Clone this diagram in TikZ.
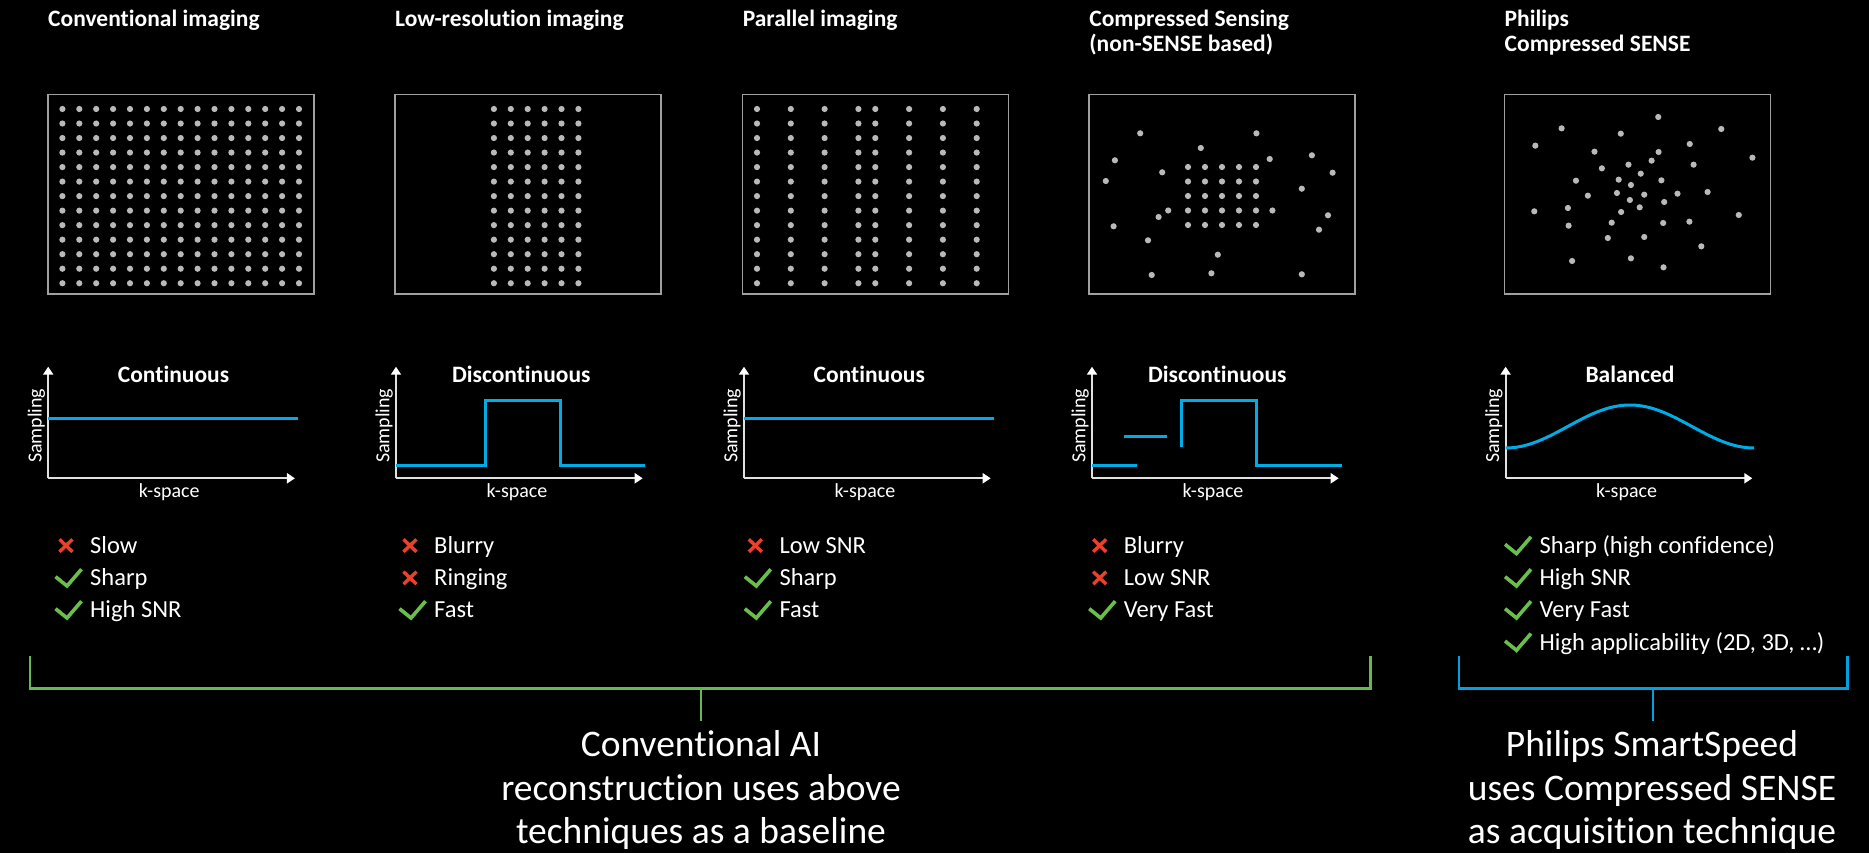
\documentclass[tikz,border=0pt]{standalone}
\usepackage{fontspec}
\setmainfont{Carlito}[Ligatures=NoCommon]
\usetikzlibrary{arrows.meta}
\definecolor{dotgray}{RGB}{185,185,185}
\definecolor{boxgray}{RGB}{160,160,160}
\definecolor{axisgray}{RGB}{225,225,225}
\definecolor{cyanline}{RGB}{0,172,230}
\definecolor{okgreen}{RGB}{106,190,75}
\definecolor{badred}{RGB}{232,65,44}
\definecolor{brgreen}{RGB}{100,185,80}
\definecolor{brblue}{RGB}{0,160,225}
\newcommand\goodrow[4]{\draw[okmark] ({#2-34.5},{#3-9}) -- ({#2-23},{#3+0.3}) -- ({#2-8.5},{#3-16.5}); \node[itemtext] (#1) at (#2,#3) {#4};}
\newcommand\badrow[4]{\draw[badmark] ({#2-30.5},{#3-14}) -- ({#2-17.5},{#3-1.5}) ({#2-30.5},{#3-1.5}) -- ({#2-17.5},{#3-14}); \node[itemtext] (#1) at (#2,#3) {#4};}
\newcommand\axes[1]{\draw[axis] (#1,478.3) -- (#1,366.7); \draw[axis] (#1,478.3) -- ({#1+246.7},478.3);}
\begin{document}
\begin{tikzpicture}[x=1pt,y=-1pt,
  ttl/.style={text=white, font=\fontsize{23.5}{28}\selectfont\bfseries, anchor=base west, inner sep=0pt},
  ptitle/.style={text=white, font=\fontsize{23.5}{28}\selectfont\bfseries, anchor=base, inner sep=0pt},
  axlabel/.style={text=white, font=\fontsize{20}{22}\selectfont, anchor=base, inner sep=0pt},
  itemtext/.style={text=white, font=\fontsize{24.5}{28}\selectfont, anchor=base west, inner sep=0pt},
  bottomtext/.style={text=white, font=\fontsize{37.5}{40}\selectfont, anchor=base, inner sep=0pt},
  kbox/.style={draw=boxgray, line width=1.5pt},
  axis/.style={draw=axisgray, line width=2pt, -{Triangle[length=8pt,width=10pt,color=white]}},
  sig/.style={draw=cyanline, line width=3pt},
  okmark/.style={draw=okgreen, line width=3.6pt},
  badmark/.style={draw=badred, line width=3.4pt},
  grbr/.style={draw=brgreen, line width=2.5pt},
  blbr/.style={draw=brblue, line width=2.5pt},
  grstem/.style={draw=brgreen, line width=1.5pt},
  blstem/.style={draw=brblue, line width=1.5pt},
  dotf/.style={fill=dotgray}
]
\useasboundingbox (0,0) rectangle (1869,853);
\fill[black] (0,0) rectangle (1869,853);

% ---------- titles ----------
\node[ttl] (t1) at (48,27) {Conventional imaging};
\node[ttl] (t2) at (395,27) {Low-resolution imaging};
\node[ttl] (t3) at (742.6,27) {Parallel imaging};
\node[ttl] (t4a) at (1089.2,27) {Compressed Sensing};
\node[ttl] (t4b) at (1089.2,51.5) {(non-SENSE based)};
\node[ttl] (t5a) at (1504.5,27) {Philips};
\node[ttl] (t5b) at (1504.5,51.5) {Compressed SENSE};

% ---------- k-space boxes ----------
\draw[kbox] (48,94.3) rectangle (314,294);
\draw[kbox] (395,94.3) rectangle (661,294);
\draw[kbox] (742.6,94.3) rectangle (1008.6,294);
\draw[kbox] (1089.2,94.3) rectangle (1355.2,294);
\draw[kbox] (1504.5,94.3) rectangle (1770.5,294);

% panel 1: full grid
\foreach \i in {0,...,14} \foreach \j in {0,...,12}
  \fill[dotf] ({62.4+16.9*\i},{109+14.52*\j}) circle[radius=3.1pt];
% panel 2: centre columns
\foreach \i in {5,...,10} \foreach \j in {0,...,12}
  \fill[dotf] ({409.4+16.9*\i},{109+14.52*\j}) circle[radius=3.1pt];
% panel 3: undersampled columns
\foreach \i in {0,2,4,6,7,9,11,13} \foreach \j in {0,...,12}
  \fill[dotf] ({757+16.9*\i},{109+14.52*\j}) circle[radius=3.1pt];
% panel 4: centre block + random
\foreach \i in {0,...,4} \foreach \j in {0,...,4}
  \fill[dotf] ({1188+17*\i},{167+14.5*\j}) circle[radius=3.1pt];
\foreach \a/\b in {1168.2/210.5,1272.4/210.5,1140.2/133.3,1256.4/133.3,1200.8/148,1114.9/160.3,1269.7/159,1311.9/155.3,1162.2/172.3,1332.6/172.7,1105.8/181,1301.8/188.7,1158.6/217,1113.6/226.3,1328/215.3,1319/229.7,1148/240.3,1217.8/254.7,1151.7/275,1211.4/273.3,1301.8/274.3}
  \fill[dotf] (\a,\b) circle[radius=3.1pt];
% panel 5: variable density random
\foreach \a/\b in {966/351,690/385,1146/387,859/401,615/437,1056/432,784/455,967/456,1235/473,947/482,881/494,1067/494,805/505,916/521,731/542,853/539,975/541,888/555,848/579,926/584,1021/581,1107/576,765/587,885/600,983/606,612/634,708/624,913/622,860/636,1196/645,833/668,980/669,1055/665,710/677,822/714,926/711,1089/739,720/783,888/775,981/802}
  \fill[dotf] ({1320+\a/2.856},{\b/3}) circle[radius=3.1pt];

% ---------- sampling plots ----------
\axes{48.2}
\axes{396}
\axes{744}
\axes{1092}
\axes{1505.6}

\draw[sig] (48.2,418.7) -- (298,418.7);
\draw[sig] (396,465) -- (485.7,465) -- (485.7,400) -- (560,400) -- (560,465) -- (645,465);
\draw[sig] (744,418.7) -- (993.5,418.7);
\draw[sig] (1092,465) -- (1137,465);
\draw[sig] (1123.7,436.7) -- (1167.3,436.7);
\draw[sig] (1181.5,447.3) -- (1181.5,400) -- (1256,400) -- (1256,465) -- (1341.7,465);
\draw[sig] plot[domain=-124.25:124.25, samples=80] ({1629.85+\x},{448-21.5*(1+cos(1.44869*\x))});

\node[ptitle] (p1) at (173.5,382.3) {Continuous};
\node[ptitle] (p2) at (521.3,382.3) {Discontinuous};
\node[ptitle] (p3) at (869.3,382.3) {Continuous};
\node[ptitle] (p4) at (1217.3,382.3) {Discontinuous};
\node[ptitle] (p5) at (1630,382.3) {Balanced};

\foreach \ox/\nm in {48.2/a,396/b,744/c,1092/d,1505.6/e}{
  \node[axlabel, rotate=90] (samp\nm) at ({\ox-6.6},425.8) {Sampling};
  \node[axlabel] (ks\nm) at ({\ox+121},497.5) {k-space};
}

% ---------- pros / cons ----------
\badrow{l1a}{90}{553.3}{Slow}
\goodrow{l1b}{90}{585.7}{Sharp}
\goodrow{l1c}{90}{617.7}{High SNR}
\badrow{l2a}{434}{553.3}{Blurry}
\badrow{l2b}{434}{585.7}{Ringing}
\goodrow{l2c}{434}{617.7}{Fast}
\badrow{l3a}{779.3}{553.3}{Low SNR}
\goodrow{l3b}{779.3}{585.7}{Sharp}
\goodrow{l3c}{779.3}{617.7}{Fast}
\badrow{l4a}{1123.7}{553.3}{Blurry}
\badrow{l4b}{1123.7}{585.7}{Low SNR}
\goodrow{l4c}{1123.7}{617.7}{Very Fast}
\goodrow{l5a}{1539.5}{553.3}{Sharp (high confidence)}
\goodrow{l5b}{1539.5}{585.7}{High SNR}
\goodrow{l5c}{1539.5}{617.7}{Very Fast}
\goodrow{l5d}{1539.5}{650}{High applicability (2D, 3D, …)}

% ---------- brackets ----------
\draw[grbr] (29.8,655.7) -- (29.8,688.7) -- (1370.7,688.7) -- (1370.7,655.7);
\coordinate (gtop) at (700.8,688.7);
\coordinate (gbot) at (700.8,721.3);
\draw[grstem] (gtop) -- (gbot);
\draw[blbr] (1458.8,655.7) -- (1458.8,688.7) -- (1847.5,688.7) -- (1847.5,655.7);
\coordinate (btop) at (1653,688.7);
\coordinate (bbot) at (1653,721.3);
\draw[blstem] (btop) -- (bbot);

\node[bottomtext] (c1) at (701,756.7) {Conventional AI};
\node[bottomtext] (c2) at (701,800) {reconstruction uses above};
\node[bottomtext] (c3) at (701,843.3) {techniques as a baseline};
\node[bottomtext] (s1) at (1652,756.7) {Philips SmartSpeed};
\node[bottomtext] (s2) at (1652,800) {uses Compressed SENSE};
\node[bottomtext] (s3) at (1652,843.3) {as acquisition technique};
\end{tikzpicture}
\end{document}
